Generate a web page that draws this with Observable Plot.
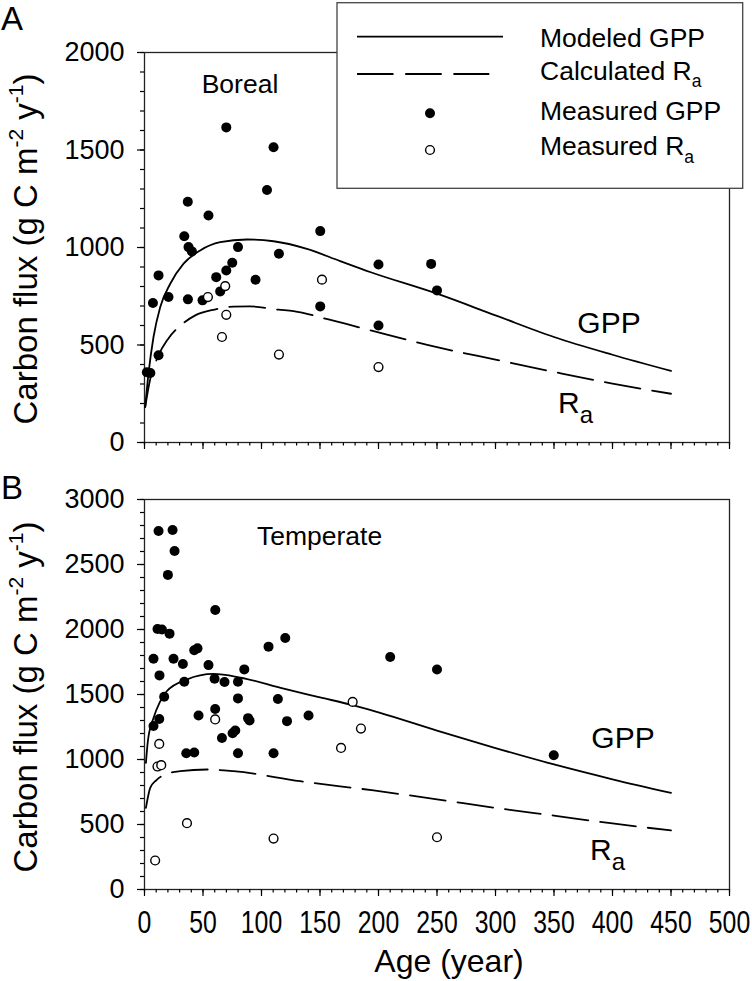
<!DOCTYPE html>
<html><head><meta charset="utf-8">
<script src="https://cdn.jsdelivr.net/npm/d3@7"></script>
<script src="https://cdn.jsdelivr.net/npm/@observablehq/plot@0.6"></script>
<style>
body{margin:0;background:#fff;}
#wrap{position:relative;width:752px;height:981px;font-family:"Liberation Sans",Arial,sans-serif;}
#wrap > svg{position:absolute;left:0;}
</style></head><body><div id="wrap"></div>
<script>
// ---- tick values ----
const ageTicks = [0, 50, 100, 150, 200, 250, 300, 350, 400, 450, 500];
const ageMinorTicks = d3.range(0, 501, 10);
const borealTicks = [0, 500, 1000, 1500, 2000];
const borealMinorTicks = d3.range(0, 2001, 100);
const temperateTicks = [0, 500, 1000, 1500, 2000, 2500, 3000];
const temperateMinorTicks = d3.range(0, 3001, 100);

// ---- Boreal (A): [age, flux] ----
const borealMeasuredGPP = [[2,360],[5,356],[7.2,715],[12,857],[12,447],[20.5,746],[34,1058],[37,1235],[37.6,1002],[40.5,980],[37.1,734],[49.6,729],[54.7,1164],[61.3,848],[64.7,775],[69.9,1616],[69.9,882],[75,922],[79.9,1002],[94.9,835],[104.7,1295],[110.3,1514],[114.9,968],[150.2,1084],[150.2,698],[200,913],[200,600],[245,916],[250,780]];
const borealMeasuredRa = [[54.2,746],[69,802],[69.9,655],[66.2,541],[114.9,451],[151.7,835],[200,387]];
const borealModeledGPP = [[0.6,182],[3.4,353],[7.7,541],[13.4,694],[22,814],[33.4,917],[47.6,985],[64.7,1027],[87.6,1041],[110.3,1032],[138.8,993],[167.3,930],[193.4,873],[250,763],[300,652],[350,541],[400,450],[450,367]];
const borealCalculatedRa = [[0.6,182],[4,300],[12,447],[20,530],[32,606],[43.4,652],[60,682],[76,697],[90,698],[114.6,681],[127.4,674],[157.3,631],[193.4,575],[250,489],[300,425],[350,362],[400,302],[450,250]];

// ---- Temperate (B): [age, flux] ----
const temperateMeasuredGPP = [[12,2758],[24,2766],[25.7,2604],[20,2420],[60.5,2150],[11.1,2004],[14.9,2000],[21.4,1968],[7.7,1775],[24.8,1775],[32.8,1734],[42.5,1840],[45.3,1855],[54.7,1726],[12.8,1647],[34,1598],[59.9,1621],[68.4,1596],[79.9,1598],[85.3,1693],[16.8,1483],[79.9,1470],[114,1466],[106,1868],[120.3,1935],[12.6,1312],[7.7,1258],[46.2,1338],[60.4,1389],[66.2,1166],[75.3,1202],[77.6,1223],[88.5,1318],[89.8,1300],[121.8,1295],[140.2,1338],[35.7,1048],[42.5,1054],[79.9,1048],[110.3,1048],[210,1789],[250,1692],[349.8,1033]];
const temperateMeasuredRa = [[9.1,223],[12.6,1120],[11.1,946],[14.3,956],[36.3,510],[60.4,1308],[110.3,392],[168,1089],[177.9,1443],[185,1238],[250,402]];
const temperateModeledGPP = [[1.2,974],[3,1150],[7.7,1320],[13,1440],[19,1525],[36,1615],[59,1658],[82,1630],[119,1545],[150,1478],[178,1418],[200,1362],[250,1222],[300,1088],[350,962],[400,848],[450,743]];
const temperateCalculatedRa = [[1.2,628],[4.9,782],[10,840],[17.7,885],[30.5,910],[53.4,923],[76,910],[133,833],[195.8,762],[250,694],[300,628],[350,568],[400,508],[450,454]];

const FONT = "Liberation Sans, Arial, Helvetica, sans-serif";

function panel({height, marginTop, marginBottom, yMax, yTicks, yMinor, gpp, ra, gppCurve, raCurve, xLabels}) {
  return Plot.plot({
    width: 752, height, marginTop, marginBottom, marginLeft: 144, marginRight: 23,
    x: {domain: [0, 500]},
    y: {domain: [0, yMax]},
    style: {fontFamily: FONT, color: "#000", background: "transparent", overflow: "visible"},
    marks: [
      Plot.frame({stroke: "#222", strokeWidth: 1.3}),
      Plot.axisY({ticks: yMinor, tickSize: 4, fill: "none", strokeWidth: 1.2}),
      Plot.axisY({ticks: yTicks, tickSize: 7, tickPadding: 13, fontSize: 27, label: null, strokeWidth: 1.2, tickFormat: d => String(d)}),
      Plot.axisX({ticks: ageMinorTicks, tickSize: 3.5, fill: "none", strokeWidth: 1.2}),
      xLabels
        ? Plot.axisX({ticks: ageTicks, tickSize: 7, tickPadding: 14.7, fontSize: 31, label: null, strokeWidth: 1.2, tickFormat: d => String(d)})
        : Plot.axisX({ticks: ageTicks, tickSize: 7, fill: "none", strokeWidth: 1.2}),
      Plot.line(gppCurve, {x: d => d[0], y: d => d[1], stroke: "#000", strokeWidth: 1.8, curve: "monotone-x"}),
      Plot.line(raCurve, {x: d => d[0], y: d => d[1], stroke: "#000", strokeWidth: 1.8, curve: "monotone-x", strokeDasharray: "36,12"}),
      Plot.dot(gpp, {x: d => d[0], y: d => d[1], r: 5, fill: "#000", stroke: "none"}),
      Plot.dot(ra, {x: d => d[0], y: d => d[1], r: 4.4, fill: "#fff", stroke: "#000", strokeWidth: 1.4})
    ]
  });
}

const wrap = document.getElementById("wrap");

const plotA = panel({height: 460, marginTop: 52, marginBottom: 18, yMax: 2000, yTicks: borealTicks, yMinor: borealMinorTicks,
  gpp: borealMeasuredGPP, ra: borealMeasuredRa, gppCurve: borealModeledGPP, raCurve: borealCalculatedRa, xLabels: false});
plotA.style.top = "0px";
wrap.appendChild(plotA);

const plotB = panel({height: 521, marginTop: 39, marginBottom: 92, yMax: 3000, yTicks: temperateTicks, yMinor: temperateMinorTicks,
  gpp: temperateMeasuredGPP, ra: temperateMeasuredRa, gppCurve: temperateModeledGPP, raCurve: temperateCalculatedRa, xLabels: true});
plotB.style.top = "460px";
wrap.appendChild(plotB);

// condensed x tick labels, as in the original
plotB.querySelectorAll('g[aria-label="x-axis tick label"] text').forEach(t => {
  const tr = t.getAttribute("transform") || "";
  t.setAttribute("transform", tr + " scale(0.8,1)");
});

// ---- overlay: titles, annotations, legend ----
const overlay = `
<svg width="752" height="981" style="top:0" font-family="${FONT}" fill="#000">
  <text x="1" y="30" font-size="33">A</text>
  <text x="1" y="499" font-size="33">B</text>
  <text transform="translate(36.7,249) rotate(-90)" text-anchor="middle" font-size="33">Carbon flux (g C m<tspan dy="-14" font-size="21">-2</tspan><tspan dy="14"> y</tspan><tspan dy="-14" font-size="21">-1</tspan><tspan dy="14">)</tspan></text>
  <text transform="translate(36.7,697) rotate(-90)" text-anchor="middle" font-size="33">Carbon flux (g C m<tspan dy="-14" font-size="21">-2</tspan><tspan dy="14"> y</tspan><tspan dy="-14" font-size="21">-1</tspan><tspan dy="14">)</tspan></text>
  <text x="449" y="971.7" text-anchor="middle" font-size="32">Age (year)</text>
  <text x="240" y="93.3" text-anchor="middle" font-size="26.5">Boreal</text>
  <text x="257" y="545" font-size="26.5">Temperate</text>
  <text x="609" y="333.3" text-anchor="middle" font-size="30">GPP</text>
  <text x="558" y="413.3" font-size="30">R<tspan dy="10" font-size="24">a</tspan></text>
  <text x="623" y="748.3" text-anchor="middle" font-size="30">GPP</text>
  <text x="590" y="860" font-size="30">R<tspan dy="10" font-size="24">a</tspan></text>
  <rect x="337" y="2.7" width="405.7" height="185.6" fill="#fff" stroke="#444" stroke-width="1.3"/>
  <line x1="357" x2="503" y1="36.7" y2="36.7" stroke="#000" stroke-width="1.8"/>
  <line x1="357" x2="489.3" y1="74" y2="74" stroke="#000" stroke-width="1.8" stroke-dasharray="36.5,11.7"/>
  <circle cx="430" cy="113.3" r="5" fill="#000"/>
  <circle cx="430" cy="150" r="4.4" fill="#fff" stroke="#000" stroke-width="1.4"/>
  <g font-size="26.5">
    <text x="540" y="46.7">Modeled GPP</text>
    <text x="540" y="80">Calculated R<tspan dy="7" font-size="17.5">a</tspan></text>
    <text x="540" y="120">Measured GPP</text>
    <text x="540" y="155">Measured R<tspan dy="7.5" font-size="17.5">a</tspan></text>
  </g>
</svg>`;
wrap.insertAdjacentHTML("beforeend", overlay);
</script>
</body></html>
